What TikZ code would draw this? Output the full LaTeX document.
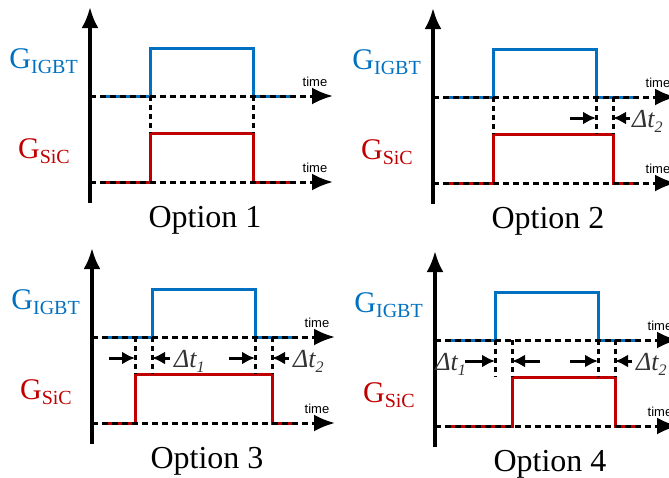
\documentclass[tikz,border=0pt]{standalone}
\usepackage{fontspec}
\setmainfont{Liberation Serif}
\newfontfamily\timefont{Liberation Sans}
\usetikzlibrary{arrows.meta,positioning}
\definecolor{igbtblue}{RGB}{0,112,192}
\definecolor{sicred}{RGB}{192,0,0}
\tikzstyle{axis} = [line width=3.8pt, -{Latex[length=21pt,width=17pt]}]
\tikzstyle{timeaxis} = [line width=3pt, dash pattern=on 6pt off 4pt, -{Latex[length=21pt,width=17pt]}]
\tikzstyle{guide} = [line width=3pt, dash pattern=on 5pt off 4pt]
\tikzstyle{igbtwave} = [igbtblue, line width=3pt]
\tikzstyle{sicwave} = [sicred, line width=3pt]
\tikzstyle{delay} = [line width=3pt, -{Latex[length=13pt,width=13pt]}]
\tikzstyle{gatelabel} = [anchor=base east, inner sep=0pt, font=\fontsize{30}{30}\selectfont]
\tikzstyle{timelabel} = [inner sep=0pt, font=\timefont\fontsize{13}{13}\selectfont]
\tikzstyle{optionlabel} = [inner sep=0pt, font=\fontsize{32}{32}\selectfont]
\tikzstyle{dtlabel} = [inner sep=0pt, text=black!80, font=\fontsize{26}{26}\selectfont\itshape]

\newcommand{\gatesub}[1]{\raisebox{-5pt}{\fontsize{20}{20}\selectfont #1}}
\newcommand{\dt}[1]{Δt\raisebox{-5pt}{\fontsize{16}{16}\selectfont #1}}

% #1 SiC on, #2 SiC off, #3 option number
\newcommand{\gatepanel}[3]{
  \draw[igbtwave] (10,0) -- (60,0) -- (60,-48) -- (163,-48) -- (163,0) -- (203,0);
  \draw[sicwave] (10,86) -- (#1,86) -- (#1,37) -- (#2,37) -- (#2,86) -- (203,86);
  \foreach \gx in {60,163,#1,#2}
    \draw[guide] (\gx,0) -- (\gx,37);
  \draw[timeaxis] (0,0) -- (243,0);
  \draw[timeaxis] (0,86) -- (243,86);
  \draw[axis] (0,107) -- (0,-89);
  \node (tigbt#3) [timelabel] at (225,-14) {time};
  \node (tsic#3) [timelabel] at (225,72) {time};
  \node (gigbt#3) [gatelabel, text=igbtblue] at (-12,-28) {G\gatesub{IGBT}};
  \node (gsic#3) [gatelabel, text=sicred] at (-20,62) {G\gatesub{SiC}};
  \node (opt#3) [optionlabel] at (115,124) {Option #3};
}

\begin{document}
\begin{tikzpicture}[x=1pt, y=-1pt]
\useasboundingbox (0,0) rectangle (669,477);

\begin{scope}[shift={(90,96)}]
  \gatepanel{60}{163}{1}
\end{scope}

\begin{scope}[shift={(433,97)}]
  \gatepanel{60}{180}{2}
  \draw[delay] (137,21) -- (163,21);
  \draw[delay] (197,21) -- (180,21);
  \node (dtb2) [dtlabel, anchor=base west] at (199,30) {\dt{2}};
\end{scope}

\begin{scope}[shift={(92,337)}]
  \gatepanel{43}{180}{3}
  \draw[delay] (17,21) -- (43,21);
  \draw[delay] (78,21) -- (60,21);
  \node (dta3) [dtlabel, anchor=base west] at (82,30) {\dt{1}};
  \draw[delay] (137,21) -- (163,21);
  \draw[delay] (197,21) -- (180,21);
  \node (dtb3) [dtlabel, anchor=base west] at (201,30) {\dt{2}};
\end{scope}

\begin{scope}[shift={(435,340)}]
  \gatepanel{77}{180}{4}
  \draw[delay] (30,21) -- (60,21);
  \draw[delay] (105,21) -- (77,21);
  \node (dta4) [dtlabel, anchor=base east] at (31,30) {\dt{1}};
  \draw[delay] (135,21) -- (163,21);
  \draw[delay] (197,21) -- (180,21);
  \node (dtb4) [dtlabel, anchor=base west] at (201,30) {\dt{2}};
\end{scope}
\end{tikzpicture}
\end{document}
